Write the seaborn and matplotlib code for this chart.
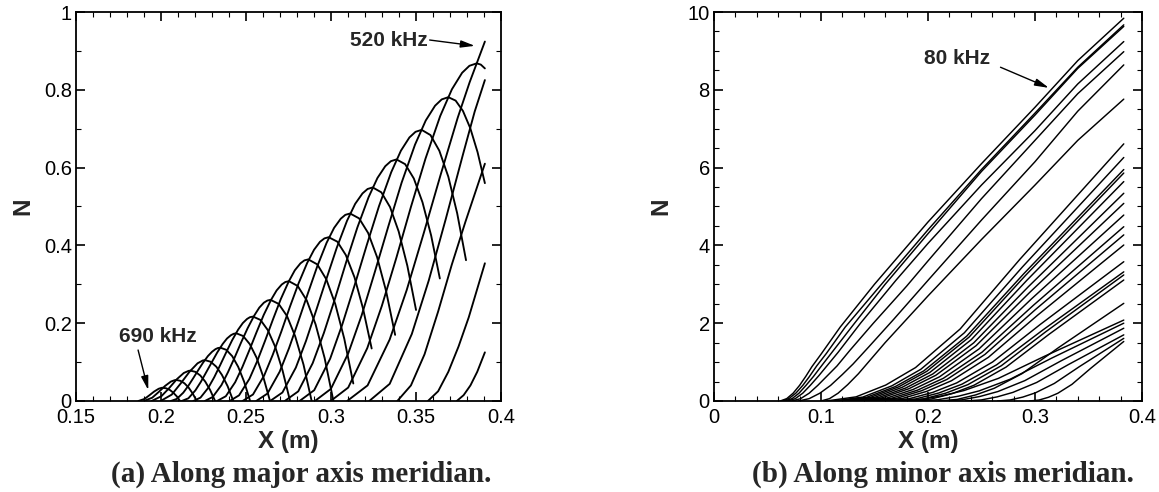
import matplotlib
matplotlib.use("Agg")
import matplotlib.pyplot as plt
from matplotlib.ticker import MultipleLocator, FuncFormatter
import pandas as pd
import seaborn as sns

# ---- N-factor curves along the major axis meridian: x (m), N ----
major_x = [
    [0.374, 0.378, 0.382, 0.386, 0.3905],
    [0.357, 0.363, 0.369, 0.375, 0.381, 0.3905],
    [0.339, 0.347, 0.355, 0.363, 0.371, 0.379, 0.3905],
    [0.3225, 0.3345, 0.3475, 0.3575, 0.3675, 0.3775, 0.3845, 0.3905],
    [0.3095, 0.3215, 0.3345, 0.3445, 0.3545, 0.3645, 0.3745, 0.3815, 0.3857, 0.3905],
    [0.2998, 0.3101, 0.3213, 0.3299, 0.3385, 0.347, 0.3556, 0.3642, 0.3711, 0.3771, 0.3814, 0.3857, 0.3881, 0.3905],
    [0.2905, 0.2999, 0.3101, 0.318, 0.3258, 0.3337, 0.3415, 0.3494, 0.3557, 0.3612, 0.3651, 0.369, 0.3733, 0.3776, 0.3819, 0.3862, 0.3905],
    [0.2815, 0.2901, 0.2995, 0.3066, 0.3138, 0.321, 0.3282, 0.3354, 0.3411, 0.3461, 0.3497, 0.3533, 0.3585, 0.3637, 0.369, 0.3742, 0.3794],
    [0.2728, 0.2807, 0.2892, 0.2958, 0.3024, 0.3089, 0.3155, 0.3221, 0.3273, 0.3319, 0.3352, 0.3385, 0.3436, 0.3487, 0.3538, 0.3589, 0.364],
    [0.2642, 0.2714, 0.2793, 0.2853, 0.2913, 0.2974, 0.3034, 0.3094, 0.3142, 0.3185, 0.3215, 0.3245, 0.3296, 0.3347, 0.3398, 0.3449, 0.35],
    [0.256, 0.2626, 0.2698, 0.2753, 0.2808, 0.2864, 0.2919, 0.2974, 0.3018, 0.3057, 0.3084, 0.3112, 0.3165, 0.3218, 0.3271, 0.3324, 0.3377],
    [0.248, 0.2541, 0.2607, 0.2657, 0.2708, 0.2758, 0.2809, 0.286, 0.29, 0.2935, 0.2961, 0.2986, 0.3037, 0.3087, 0.3138, 0.3188, 0.3239],
    [0.2404, 0.2459, 0.252, 0.2566, 0.2612, 0.2658, 0.2704, 0.2751, 0.2787, 0.282, 0.2843, 0.2866, 0.2919, 0.2972, 0.3025, 0.3078, 0.3131],
    [0.233, 0.2381, 0.2436, 0.2478, 0.252, 0.2562, 0.2604, 0.2647, 0.268, 0.271, 0.2731, 0.2752, 0.2804, 0.2857, 0.2909, 0.2962, 0.3014],
    [0.2258, 0.2304, 0.2355, 0.2393, 0.2432, 0.247, 0.2509, 0.2548, 0.2578, 0.2605, 0.2625, 0.2644, 0.2692, 0.2741, 0.2789, 0.2838, 0.2886],
    [0.219, 0.2232, 0.2278, 0.2313, 0.2348, 0.2383, 0.2418, 0.2453, 0.2481, 0.2506, 0.2523, 0.2541, 0.2585, 0.2628, 0.2672, 0.2715, 0.2759],
    [0.2122, 0.2161, 0.2202, 0.2234, 0.2266, 0.2299, 0.2331, 0.2363, 0.2388, 0.2411, 0.2427, 0.2443, 0.2483, 0.2522, 0.2562, 0.2601, 0.2641],
    [0.2058, 0.2093, 0.2131, 0.216, 0.2189, 0.2218, 0.2247, 0.2276, 0.23, 0.232, 0.2334, 0.2349, 0.2384, 0.2419, 0.2454, 0.2489, 0.2524],
    [0.1998, 0.2063, 0.2115, 0.2168, 0.2215, 0.2246, 0.2259, 0.2292, 0.2325, 0.2358, 0.2392, 0.2425],
    [0.1945, 0.2002, 0.2048, 0.2093, 0.2134, 0.2162, 0.2173, 0.2202, 0.2231, 0.226, 0.2289, 0.2318],
    [0.19, 0.1948, 0.1986, 0.2024, 0.2058, 0.2081, 0.209, 0.2114, 0.2138, 0.2162, 0.2186, 0.221],
    [0.1867, 0.1903, 0.1931, 0.196, 0.1986, 0.2003, 0.201, 0.203, 0.2051, 0.2071, 0.2092, 0.2112],
]
major_n = [
    [0, 0.015, 0.04, 0.075, 0.125],
    [0, 0.025, 0.075, 0.14, 0.215, 0.354],
    [0, 0.04, 0.12, 0.23, 0.35, 0.46, 0.61],
    [0, 0.044, 0.172, 0.31, 0.468, 0.632, 0.744, 0.825],
    [0, 0.04, 0.158, 0.285, 0.431, 0.582, 0.728, 0.819, 0.868, 0.924],
    [0, 0.0345, 0.1357, 0.2446, 0.3692, 0.4989, 0.6235, 0.7324, 0.8013, 0.8437, 0.8617, 0.868, 0.8648, 0.855],
    [0, 0.031, 0.1221, 0.22, 0.3322, 0.4489, 0.561, 0.659, 0.721, 0.7591, 0.7753, 0.781, 0.7722, 0.7456, 0.7014, 0.6396, 0.56],
    [0, 0.0277, 0.1089, 0.1964, 0.2964, 0.4006, 0.5007, 0.5881, 0.6434, 0.6775, 0.692, 0.697, 0.6836, 0.6434, 0.5764, 0.4826, 0.362],
    [0, 0.0247, 0.0971, 0.175, 0.2641, 0.3569, 0.4461, 0.524, 0.5733, 0.6036, 0.6165, 0.621, 0.6088, 0.572, 0.5108, 0.4252, 0.315],
    [0, 0.0218, 0.0858, 0.1547, 0.2335, 0.3155, 0.3943, 0.4632, 0.5068, 0.5336, 0.545, 0.549, 0.5364, 0.4986, 0.4356, 0.3474, 0.234],
    [0, 0.0191, 0.0753, 0.1358, 0.205, 0.277, 0.3462, 0.4067, 0.445, 0.4685, 0.4785, 0.482, 0.4695, 0.4321, 0.3697, 0.2823, 0.17],
    [0, 0.0167, 0.0658, 0.1186, 0.179, 0.242, 0.3024, 0.3552, 0.3887, 0.4092, 0.418, 0.421, 0.4096, 0.3752, 0.318, 0.238, 0.135],
    [0, 0.0145, 0.0569, 0.1026, 0.1548, 0.2092, 0.2615, 0.3071, 0.336, 0.3538, 0.3614, 0.364, 0.3512, 0.313, 0.2492, 0.1598, 0.045],
    [0, 0.0122, 0.0481, 0.0868, 0.131, 0.177, 0.2212, 0.2599, 0.2843, 0.2994, 0.3058, 0.308, 0.2957, 0.2587, 0.1971, 0.1109, 0],
    [0, 0.0103, 0.0406, 0.0733, 0.1106, 0.1494, 0.1868, 0.2194, 0.24, 0.2527, 0.2581, 0.26, 0.2496, 0.2184, 0.1664, 0.0936, 0],
    [0, 0.0086, 0.0339, 0.0611, 0.0923, 0.1247, 0.1559, 0.1831, 0.2003, 0.2109, 0.2154, 0.217, 0.2083, 0.1823, 0.1389, 0.0781, 0],
    [0, 0.0069, 0.0272, 0.049, 0.074, 0.1, 0.125, 0.1468, 0.1606, 0.1691, 0.1727, 0.174, 0.167, 0.1462, 0.1114, 0.0626, 0],
    [0, 0.0054, 0.0214, 0.0386, 0.0583, 0.0787, 0.0984, 0.1156, 0.1265, 0.1332, 0.136, 0.137, 0.1315, 0.1151, 0.0877, 0.0493, 0],
    [0, 0.0164, 0.0447, 0.0754, 0.0969, 0.1042, 0.105, 0.1008, 0.0882, 0.0672, 0.0378, 0],
    [0, 0.0122, 0.0332, 0.056, 0.072, 0.0774, 0.078, 0.0749, 0.0655, 0.0499, 0.0281, 0],
    [0, 0.0084, 0.023, 0.0388, 0.0499, 0.0536, 0.054, 0.0518, 0.0454, 0.0346, 0.0194, 0],
    [0, 0.0053, 0.0145, 0.0244, 0.0314, 0.0338, 0.034, 0.0326, 0.0286, 0.0218, 0.0122, 0],
]

# ---- N-factor curves along the minor axis meridian: x (m), N ----
minor_x = [
    [0.062, 0.068, 0.074, 0.08, 0.086, 0.0915, 0.1, 0.118, 0.15, 0.2, 0.25, 0.3, 0.34, 0.383],
    [0.0635, 0.07, 0.0765, 0.083, 0.089, 0.096, 0.105, 0.1227, 0.155, 0.2, 0.25, 0.3, 0.34, 0.383],
    [0.066, 0.073, 0.0795, 0.086, 0.093, 0.101, 0.11, 0.13, 0.16, 0.2, 0.25, 0.3, 0.34, 0.383],
    [0.069, 0.076, 0.083, 0.09, 0.098, 0.1055, 0.116, 0.137, 0.17, 0.2, 0.25, 0.3, 0.34, 0.383],
    [0.073, 0.081, 0.089, 0.097, 0.106, 0.115, 0.127, 0.149, 0.18, 0.2, 0.25, 0.3, 0.34, 0.383],
    [0.079, 0.089, 0.099, 0.109, 0.12, 0.13, 0.145, 0.168, 0.2, 0.25, 0.3, 0.34, 0.383],
    [0.1, 0.108, 0.116, 0.125, 0.135, 0.16, 0.2, 0.25, 0.3, 0.34, 0.383],
    [0.105, 0.1328, 0.1606, 0.1884, 0.2301, 0.2857, 0.383],
    [0.112, 0.1391, 0.1662, 0.1933, 0.234, 0.2882, 0.383],
    [0.116, 0.1427, 0.1694, 0.1961, 0.2362, 0.2896, 0.383],
    [0.12, 0.1463, 0.1726, 0.1989, 0.2384, 0.291, 0.383],
    [0.124, 0.1499, 0.1758, 0.2017, 0.2406, 0.2924, 0.383],
    [0.128, 0.1535, 0.179, 0.2045, 0.2428, 0.2938, 0.383],
    [0.132, 0.1571, 0.1822, 0.2073, 0.245, 0.2952, 0.383],
    [0.137, 0.1616, 0.1862, 0.2108, 0.2477, 0.2969, 0.383],
    [0.142, 0.1661, 0.1902, 0.2143, 0.2505, 0.2987, 0.383],
    [0.147, 0.1706, 0.1942, 0.2178, 0.2532, 0.3004, 0.383],
    [0.153, 0.176, 0.199, 0.222, 0.2565, 0.3025, 0.383],
    [0.16, 0.1823, 0.2046, 0.2269, 0.2604, 0.305, 0.383],
    [0.167, 0.1886, 0.2102, 0.2318, 0.2642, 0.3074, 0.383],
    [0.175, 0.1958, 0.2166, 0.2374, 0.2686, 0.3102, 0.383],
    [0.183, 0.203, 0.223, 0.243, 0.273, 0.313, 0.383],
    [0.21, 0.2273, 0.2446, 0.2619, 0.2879, 0.3225, 0.383],
    [0.17, 0.1913, 0.2126, 0.2339, 0.2659, 0.3085, 0.383],
    [0.19, 0.2093, 0.2286, 0.2479, 0.2769, 0.3155, 0.383],
    [0.215, 0.2318, 0.2486, 0.2654, 0.2906, 0.3242, 0.383],
    [0.235, 0.2498, 0.2646, 0.2794, 0.3016, 0.3312, 0.383],
    [0.265, 0.2768, 0.2886, 0.3004, 0.3181, 0.3417, 0.383],
    [0.295, 0.3038, 0.3126, 0.3214, 0.3346, 0.3522, 0.383],
]
minor_n = [
    [0, 0.06, 0.2, 0.4, 0.64, 0.88, 1.2, 1.9, 3.0, 4.6, 6.1, 7.55, 8.75, 9.84],
    [0, 0.06, 0.2, 0.4, 0.62, 0.9, 1.22, 1.9, 2.95, 4.4, 5.95, 7.4, 8.58, 9.67],
    [0, 0.06, 0.2, 0.4, 0.63, 0.92, 1.24, 1.95, 3.0, 4.3, 5.9, 7.35, 8.55, 9.63],
    [0, 0.06, 0.2, 0.4, 0.65, 0.9, 1.25, 2.0, 3.1, 4.05, 5.55, 6.95, 8.15, 9.24],
    [0, 0.06, 0.2, 0.4, 0.65, 0.9, 1.3, 2.0, 2.95, 3.6, 5.2, 6.7, 7.9, 8.98],
    [0, 0.06, 0.2, 0.4, 0.68, 0.95, 1.4, 2.1, 3.1, 4.65, 6.15, 7.45, 8.64],
    [0, 0.06, 0.2, 0.42, 0.7, 1.5, 2.7, 4.15, 5.55, 6.7, 7.76],
    [0, 0.106, 0.41, 0.859, 1.851, 3.636, 6.61],
    [0, 0.1, 0.388, 0.814, 1.753, 3.443, 6.26],
    [0, 0.095, 0.369, 0.774, 1.666, 3.273, 5.95],
    [0, 0.094, 0.363, 0.762, 1.641, 3.223, 5.86],
    [0, 0.09, 0.35, 0.733, 1.579, 3.102, 5.64],
    [0, 0.085, 0.331, 0.694, 1.495, 2.937, 5.34],
    [0, 0.081, 0.315, 0.66, 1.422, 2.794, 5.08],
    [0, 0.076, 0.296, 0.621, 1.338, 2.629, 4.78],
    [0, 0.072, 0.278, 0.582, 1.254, 2.464, 4.48],
    [0, 0.068, 0.265, 0.555, 1.196, 2.349, 4.27],
    [0, 0.064, 0.249, 0.521, 1.123, 2.206, 4.01],
    [0, 0.057, 0.222, 0.465, 1.002, 1.969, 3.58],
    [0, 0.053, 0.206, 0.432, 0.93, 1.826, 3.32],
    [0, 0.052, 0.201, 0.421, 0.907, 1.782, 3.24],
    [0, 0.05, 0.193, 0.404, 0.871, 1.711, 3.11],
    [0, 0.04, 0.156, 0.326, 0.703, 1.381, 2.51],
    [0, 0.033, 0.129, 0.27, 0.582, 1.144, 2.08],
    [0, 0.032, 0.124, 0.26, 0.56, 1.1, 2.0],
    [0, 0.03, 0.116, 0.243, 0.524, 1.029, 1.87],
    [0, 0.027, 0.105, 0.221, 0.476, 0.935, 1.7],
    [0, 0.026, 0.1, 0.209, 0.451, 0.886, 1.61],
    [0, 0.024, 0.095, 0.199, 0.428, 0.842, 1.53],
]

major_xlim = (0.15, 0.4)
major_ylim = (0.0, 1.0)
minor_xlim = (0.0, 0.4)
minor_ylim = (0.0, 10.0)

captions = ["(a) Along major axis meridian.", "(b) Along minor axis meridian."]


def long_frame(xs, ns):
    rows = []
    for cid, (cx, cn) in enumerate(zip(xs, ns, strict=True)):
        for order, (a, b) in enumerate(zip(cx, cn, strict=True)):
            rows.append((cid, order, a, b))
    return pd.DataFrame(rows, columns=["curve", "order", "x", "N"])


sns.set_theme(style="ticks")
plt.rcParams["font.family"] = ["Liberation Sans", "DejaVu Sans"]

fig = plt.figure(figsize=(11.59, 4.92), dpi=100)
ax1 = fig.add_axes([0.0656, 0.185, 0.3667, 0.7906])
ax2 = fig.add_axes([0.6160, 0.185, 0.3693, 0.7906])

sns.lineplot(data=long_frame(major_x, major_n), x="x", y="N", units="curve",
             estimator=None, sort=False, color="black", lw=1.35, ax=ax1,
             legend=False)
sns.lineplot(data=long_frame(minor_x, minor_n), x="x", y="N", units="curve",
             estimator=None, sort=False, color="black", lw=1.05, ax=ax2,
             legend=False)

fmt = FuncFormatter(lambda v, p: f"{v:g}")


def style_axes(ax, xlim, ylim, xmaj, xmin, ymaj, ymin):
    ax.set_xlim(*xlim)
    ax.set_ylim(*ylim)
    ax.xaxis.set_major_locator(MultipleLocator(xmaj))
    ax.xaxis.set_minor_locator(MultipleLocator(xmin))
    ax.yaxis.set_major_locator(MultipleLocator(ymaj))
    ax.yaxis.set_minor_locator(MultipleLocator(ymin))
    ax.xaxis.set_major_formatter(fmt)
    ax.yaxis.set_major_formatter(fmt)
    ax.tick_params(which="both", direction="in", top=True, right=True,
                   colors="black", labelsize=14.5)
    ax.tick_params(which="major", length=6.5, width=1.2)
    ax.tick_params(axis="x", which="major", pad=5)
    ax.tick_params(axis="y", which="major", pad=3)
    ax.tick_params(which="minor", length=3.5, width=0.8)
    for s in ax.spines.values():
        s.set_linewidth(1.3)
        s.set_color("black")
    ax.set_xlabel("X (m)", fontsize=17.5, fontweight="bold")
    ax.set_ylabel("N", fontsize=17.5, fontweight="bold")
    ax.xaxis.set_label_coords(0.5, -0.074)
    ax.yaxis.set_label_coords(-0.098, 0.5)
    ax.grid(False)


style_axes(ax1, major_xlim, major_ylim, 0.05, 0.01, 0.2, 0.1)
style_axes(ax2, minor_xlim, minor_ylim, 0.1, 0.02, 2, 0.5)

arrow = dict(arrowstyle="-|>,head_length=0.7,head_width=0.18", color="black",
             lw=1.0, shrinkA=0, shrinkB=0)
label_font = dict(fontsize=15, fontweight="bold", ha="center", va="center")

ax1.text(0.3338, 0.928, "520 kHz", **label_font)
ax1.annotate("", xy=(0.3846, 0.913), xytext=(0.358, 0.928), arrowprops=arrow)
ax1.text(0.1979, 0.1645, "690 kHz", **label_font)
ax1.annotate("", xy=(0.1925, 0.028), xytext=(0.1865, 0.131), arrowprops=arrow)
ax2.text(0.2273, 8.8, "80 kHz", **label_font)
ax2.annotate("", xy=(0.313, 8.05), xytext=(0.2678, 8.58), arrowprops=arrow)

for xc, cap in zip((0.2597, 0.8136), captions):
    fig.text(xc, 0.035, cap, ha="center", va="center", fontsize=21,
             fontweight="bold", family=["Liberation Serif", "DejaVu Serif"])

fig.savefig("out.png", dpi=100)
